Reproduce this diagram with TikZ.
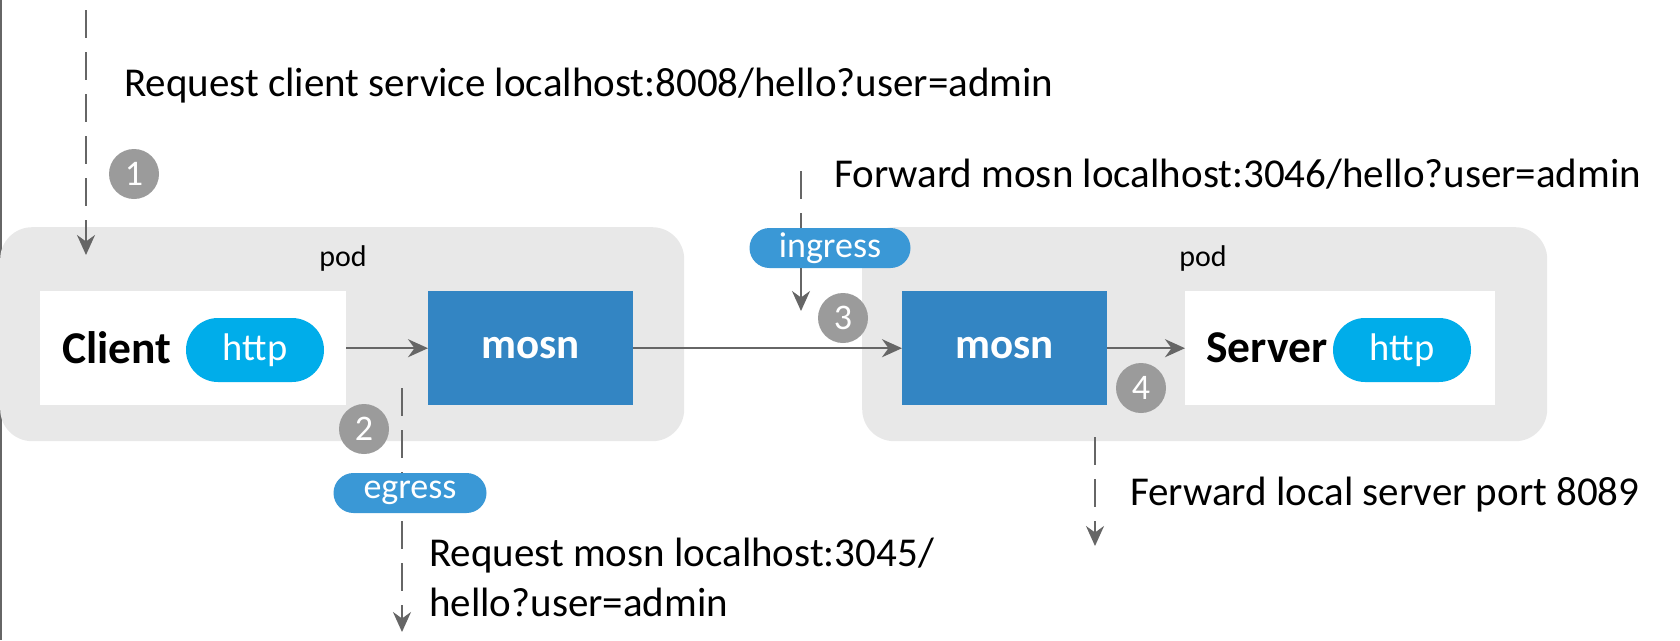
\documentclass[tikz,border=0pt]{standalone}
\usepackage{fontspec}
\setmainfont{Carlito}
\usetikzlibrary{arrows.meta}
\definecolor{podc}{HTML}{E8E8E8}
\definecolor{mosnc}{HTML}{3385C3}
\definecolor{httpc}{HTML}{00ADEA}
\definecolor{tagc}{HTML}{3A98D6}
\definecolor{numc}{HTML}{9B9B9B}
\definecolor{arrc}{HTML}{666666}
\tikzset{
  podbox/.style={fill=podc, rounded corners=32pt, anchor=north west, inner sep=0pt},
  whitebox/.style={fill=white, anchor=north west, inner sep=0pt, minimum height=114pt},
  mosnbox/.style={fill=mosnc, anchor=north west, inner sep=0pt, minimum width=205pt, minimum height=114pt, text=white, font=\fontsize{43}{43}\selectfont\bfseries},
  httppill/.style={fill=httpc, rounded corners=32pt, minimum width=138pt, minimum height=64pt, inner sep=0pt, text=white, font=\fontsize{38.5}{38.5}\selectfont},
  tagpill/.style={fill=tagc, rounded corners=20pt, minimum height=40pt, inner sep=0pt, text=white, font=\fontsize{36}{36}\selectfont},
  numdot/.style={circle, fill=numc, minimum size=50pt, inner sep=0pt, text=white, font=\fontsize{36}{36}\selectfont},
  lbl/.style={anchor=west, inner sep=0pt, font=\fontsize{41}{50}\selectfont, align=left},
  podlbl/.style={inner sep=0pt, font=\fontsize{30}{30}\selectfont},
  bigname/.style={inner sep=0pt, font=\fontsize{45.5}{45.5}\selectfont\bfseries},
  flow/.style={draw=arrc, line width=2pt, -{Stealth[length=20pt,width=18pt]}},
  dflow/.style={draw=arrc, line width=2pt, dash pattern=on 28pt off 14pt},
}
\begin{document}
\begin{tikzpicture}[x=1pt,y=-1pt]
\useasboundingbox (0,0) rectangle (1680,640);
\fill[white] (0,0) rectangle (1680,640);
\draw[arrc, line width=2pt] (1,0) -- (1,640);

% pods
\node[podbox, minimum width=684pt, minimum height=214pt] (pod1) at (0,227) {};
\node[podbox, minimum width=685pt, minimum height=214pt] (pod2) at (862,227) {};
\node[podlbl] (podl1) at (343,258) {pod};
\node[podlbl] (podl2) at (1203,258) {pod};

% boxes
\node[whitebox, minimum width=306pt] (client) at (40,291) {};
\node[mosnbox] (mosn1) at (428,291) {mosn};
\node[mosnbox] (mosn2) at (902,291) {mosn};
\node[whitebox, minimum width=310pt] (server) at (1185,291) {};
\node[bigname] (clientt) at (117,348) {Client};
\node[httppill] (http1) at (255,350) {http};
\node[bigname] (servert) at (1267,348) {Server};
\node[httppill] (http2) at (1402,350) {http};

% main arrows
\draw[flow] (client.east) -- (mosn1.west);
\draw[flow] (mosn1.east) -- (mosn2.west);
\draw[flow] (mosn2.east) -- (server.west);

% step numbers
\node[numdot] (n1) at (134,174) {1};
\node[numdot] (n2) at (364,429) {2};
\node[numdot] (n3) at (843,318) {3};
\node[numdot] (n4) at (1141,388) {4};

% tags
\node[tagpill, minimum width=161pt] (ingress) at (830,248) {ingress};
\node[tagpill, minimum width=153pt] (egress) at (410,493) {egress};

% dashed flows
\coordinate (s1) at (86,10);
\coordinate (e1) at (86,255);
\draw[dflow, -{Stealth[length=20pt,width=18pt]}] (s1) -- (e1);

\coordinate (s2) at (402,388);
\coordinate (e2) at (402,632);
\draw[dflow] (s2) -- (s2 |- egress.north);
\draw[dflow, -{Stealth[length=20pt,width=18pt]}] ([yshift=-8pt]s2 |- egress.south) -- (e2);

\coordinate (s3) at (801,171);
\coordinate (e3) at (801,311);
\draw[dflow] (s3) -- (s3 |- ingress.north);
\draw[flow] (s3 |- ingress.south) -- (e3);

\coordinate (s4) at (1095,437);
\coordinate (e4) at (1095,546);
\draw[dflow, -{Stealth[length=20pt,width=18pt]}] (s4) -- (e4);

% labels
\node[lbl] (t1) at (124,86) {Request client service localhost:8008/hello?user=admin};
\node[lbl] (t2) at (834,174) {Forward mosn localhost:3046/hello?user=admin};
\node[lbl] (t3) at (429,577) {Request mosn localhost:3045/\\hello?user=admin};
\node[lbl] (t4) at (1130,495) {Ferward local server port 8089};
\end{tikzpicture}
\end{document}
